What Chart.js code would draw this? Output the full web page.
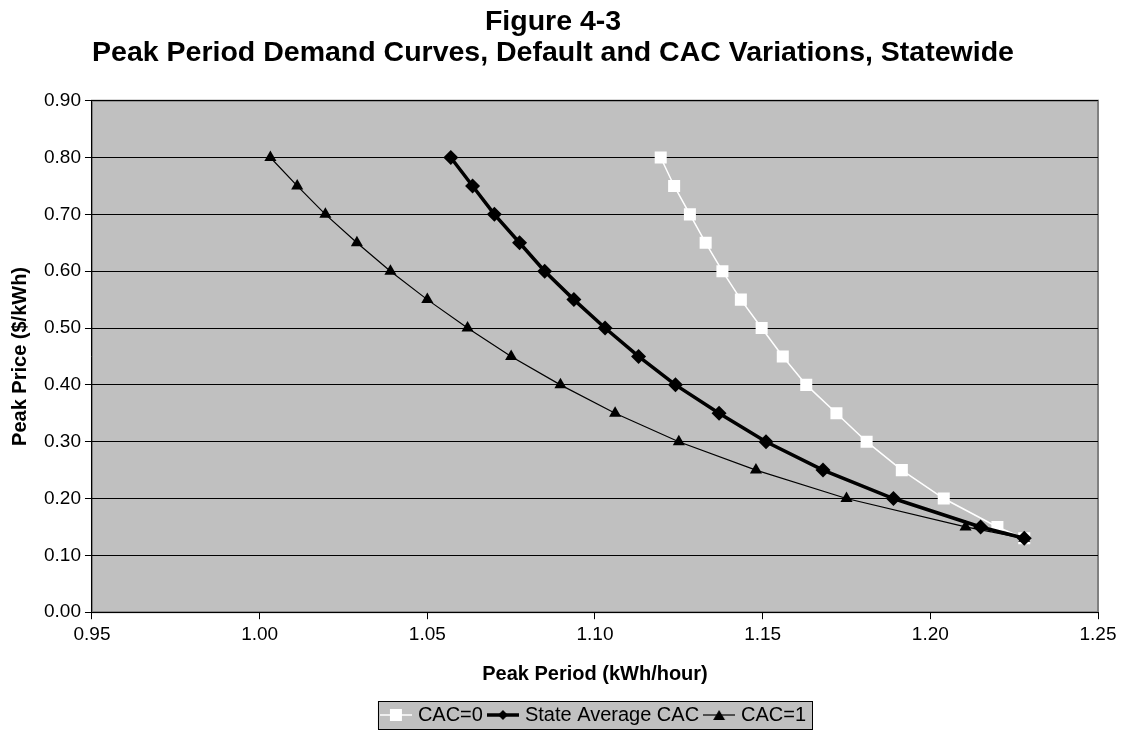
<!DOCTYPE html>
<html>
<head>
<meta charset="utf-8">
<script src="https://cdn.jsdelivr.net/npm/chart.js@4/dist/chart.umd.min.js"></script>
<style>
  html, body { margin: 0; padding: 0; background: #fff; }
  #wrap { width: 1125px; height: 731px; }
</style>
</head>
<body>
<div id="wrap"><canvas id="demandChart" width="1125" height="731"></canvas></div>
<script>
// Peak price steps ($/kWh) shared by every curve
const prices = [0.80, 0.75, 0.70, 0.65, 0.60, 0.55, 0.50, 0.45, 0.40, 0.35, 0.30, 0.25, 0.20, 0.15, 0.13];

// Peak period usage (kWh/hour) at each price
const cac0 = [1.1196, 1.1236, 1.1283, 1.1330, 1.1380, 1.1435, 1.1497, 1.1560, 1.1630, 1.1720, 1.1810, 1.1915, 1.2040, 1.2200, 1.2280];
const stateAvg = [1.0570, 1.0635, 1.0700, 1.0775, 1.0850, 1.0937, 1.1030, 1.1130, 1.1240, 1.1370, 1.1510, 1.1680, 1.1890, 1.2150, 1.2280];
const cac1 = [1.0032, 1.0112, 1.0196, 1.0290, 1.0390, 1.0500, 1.0620, 1.0750, 1.0897, 1.1060, 1.1250, 1.1480, 1.1750, 1.2105, 1.2280];

const seriesNames = ['CAC=0', 'State Average CAC', 'CAC=1'];

const xTicks = [0.95, 1.00, 1.05, 1.10, 1.15, 1.20, 1.25];
const yTicks = [0.00, 0.10, 0.20, 0.30, 0.40, 0.50, 0.60, 0.70, 0.80, 0.90];

const FONT = 'Liberation Sans, Arial, sans-serif';

function toPoints(xs) {
    return xs.map((x, i) => ({ x: x, y: prices[i] }));
}

// little line-with-marker icon for the legend, Excel style
function legendIcon(color, lineWidth, marker, fill) {
    const c = document.createElement('canvas');
    c.width = 32;
    c.height = 16;
    const g = c.getContext('2d');
    g.strokeStyle = color;
    g.lineWidth = lineWidth;
    g.beginPath();
    g.moveTo(0, 8);
    g.lineTo(32, 8);
    g.stroke();
    g.fillStyle = fill;
    g.beginPath();
    if (marker === 'rect') {
        g.rect(10, 2, 12, 12);
    } else if (marker === 'rectRot') {
        g.moveTo(16, 3); g.lineTo(21, 8); g.lineTo(16, 13); g.lineTo(11, 8); g.closePath();
    } else {
        g.moveTo(16, 3); g.lineTo(22, 13); g.lineTo(10, 13); g.closePath();
    }
    g.fill();
    return c;
}

const icons = [
    legendIcon('#ffffff', 1.5, 'rect', '#ffffff'),
    legendIcon('#000000', 3.5, 'rectRot', '#000000'),
    legendIcon('#000000', 1.2, 'triangle', '#000000')
];

const canvas = document.getElementById('demandChart');
const ctx = canvas.getContext('2d');

new Chart(ctx, {
    type: 'line',
    data: {
        datasets: [{
            label: seriesNames[0],
            data: toPoints(cac0),
            borderColor: '#ffffff',
            backgroundColor: '#ffffff',
            borderWidth: 1.5,
            pointStyle: 'rect',
            pointRadius: 8.5,
            pointBorderWidth: 0,
            order: 3
        }, {
            label: seriesNames[1],
            data: toPoints(stateAvg),
            borderColor: '#000000',
            backgroundColor: '#000000',
            borderWidth: 3.5,
            pointStyle: 'rectRot',
            pointRadius: 7.5,
            pointBorderWidth: 0,
            order: 2
        }, {
            label: seriesNames[2],
            data: toPoints(cac1),
            borderColor: '#000000',
            backgroundColor: '#000000',
            borderWidth: 1.2,
            pointStyle: 'triangle',
            pointRadius: 7,
            pointBorderWidth: 0,
            order: 1
        }]
    },
    options: {
        responsive: false,
        animation: false,
        layout: {
            padding: { top: 6, right: 27, bottom: 2, left: 8 }
        },
        scales: {
            x: {
                type: 'linear',
                min: 0.95,
                max: 1.25,
                afterBuildTicks: (axis) => { axis.ticks = xTicks.map(v => ({ value: v })); },
                ticks: {
                    color: '#000',
                    font: { family: FONT, size: 19 },
                    padding: 4,
                    maxRotation: 0,
                    callback: (v) => Number(v).toFixed(2)
                },
                grid: {
                    drawOnChartArea: false,
                    color: '#000',
                    tickLength: 7
                },
                border: { color: '#000', width: 1 },
                title: {
                    display: true,
                    text: 'Peak Period (kWh/hour)',
                    color: '#000',
                    font: { family: FONT, size: 20, weight: 'bold' },
                    padding: { top: 12, bottom: 5 }
                }
            },
            y: {
                min: 0,
                max: 0.9,
                afterBuildTicks: (axis) => { axis.ticks = yTicks.map(v => ({ value: v })); },
                ticks: {
                    color: '#000',
                    font: { family: FONT, size: 19 },
                    padding: 4,
                    callback: (v) => Number(v).toFixed(2)
                },
                grid: {
                    color: '#000',
                    lineWidth: 1,
                    tickLength: 7
                },
                border: { color: '#000', width: 1 },
                title: {
                    display: true,
                    text: 'Peak Price ($/kWh)',
                    color: '#000',
                    font: { family: FONT, size: 20, weight: 'bold' },
                    padding: { top: 0, bottom: 8 }
                }
            }
        },
        plugins: {
            title: {
                display: true,
                text: ['Figure 4-3', 'Peak Period Demand Curves, Default and CAC Variations, Statewide'],
                color: '#000',
                font: { family: FONT, size: 28.5, weight: 'bold', lineHeight: 1.1 },
                padding: { top: 0, bottom: 32 }
            },
            legend: {
                position: 'bottom',
                labels: {
                    color: '#000',
                    font: { family: FONT, size: 20 },
                    usePointStyle: true,
                    pointStyleWidth: 24,
                    padding: 8,
                    generateLabels: (chart) => chart.data.datasets.map((ds, i) => ({
                        text: ds.label,
                        pointStyle: icons[i],
                        fillStyle: ds.backgroundColor,
                        strokeStyle: ds.borderColor,
                        lineWidth: 0,
                        hidden: false,
                        datasetIndex: i
                    }))
                }
            },
            tooltip: { enabled: false }
        }
    },
    plugins: [{
        // centre the legend under the plot area and drop it a little lower
        id: 'legendShift',
        afterLayout: (chart) => {
            const lg = chart.legend;
            const a = chart.chartArea;
            const dx = (a.left + a.right) / 2 - (lg.left + lg.right) / 2;
            const dy = 6;
            lg.left += dx;
            lg.right += dx;
            lg.top += dy;
            lg.bottom += dy;
        }
    }, {
        id: 'plotBackground',
        beforeDraw: (chart) => {
            const c = chart.ctx;
            const a = chart.chartArea;
            c.save();
            c.fillStyle = '#c0c0c0';
            c.fillRect(a.left, a.top, a.right - a.left, a.bottom - a.top);
            c.strokeStyle = '#808080';
            c.lineWidth = 2;
            c.strokeRect(a.left, a.top, a.right - a.left, a.bottom - a.top);

            // grey box behind the legend entries
            const boxes = chart.legend.legendHitBoxes;
            if (boxes && boxes.length) {
                const l = Math.min(...boxes.map(b => b.left)) - 6;
                const r = Math.max(...boxes.map(b => b.left + b.width)) + 6;
                const t = Math.min(...boxes.map(b => b.top)) - 4;
                const btm = Math.max(...boxes.map(b => b.top + b.height)) + 4;
                c.fillStyle = '#c0c0c0';
                c.fillRect(l, t, r - l, btm - t);
                c.strokeStyle = '#000';
                c.lineWidth = 1;
                c.strokeRect(Math.round(l) + 0.5, Math.round(t) + 0.5, Math.round(r - l), Math.round(btm - t));
            }
            c.restore();
        }
    }]
});
</script>
</body>
</html>
